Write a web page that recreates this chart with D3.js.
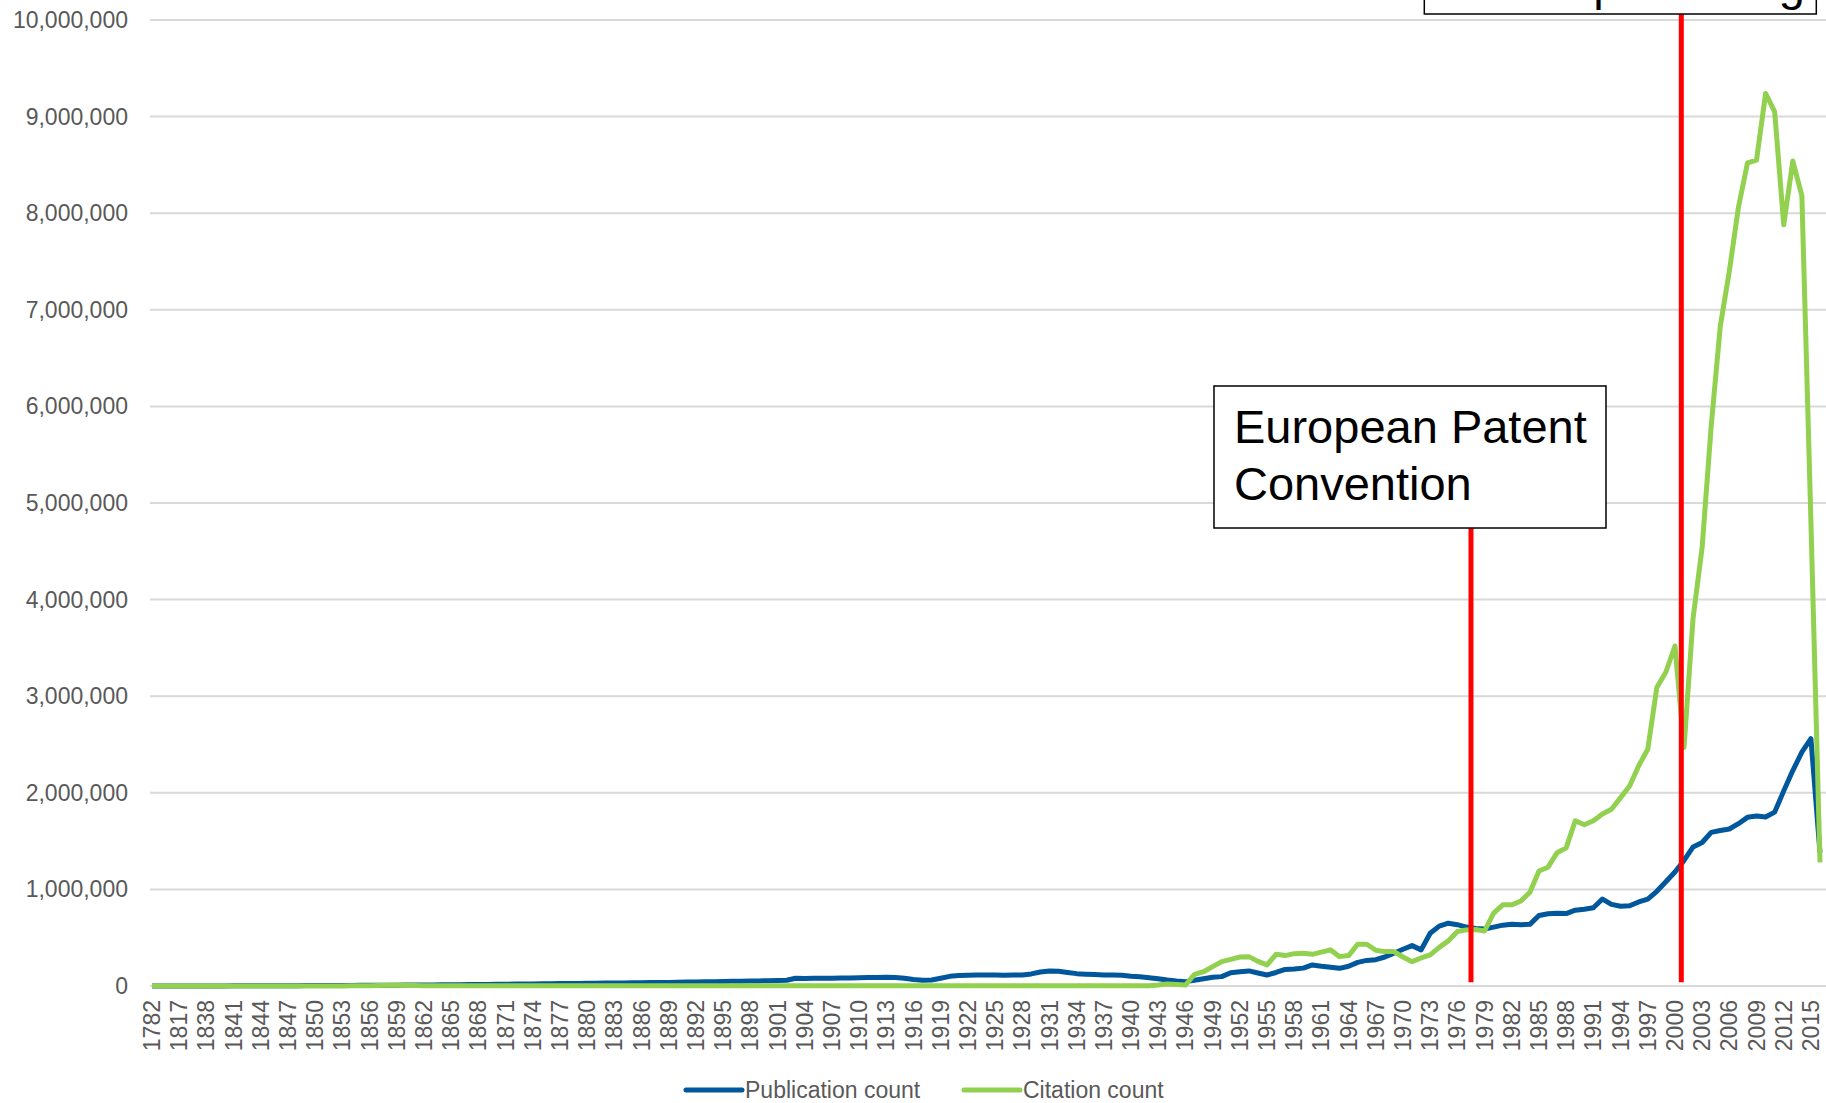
<!DOCTYPE html>
<html>
<head>
<meta charset="utf-8">
<script src="https://cdn.jsdelivr.net/npm/d3@7"></script>
<style>
  body { margin: 0; background: #fff; }
  svg { display: block; font-family: "Liberation Sans", Arial, sans-serif; }
</style>
</head>
<body>
<div id="chart"></div>
<script>
// categories: a few early years, then every year 1838-2016
const earlyYears = ['1782', '1791', '1805', '1817', '1823', '1832'];
const years = earlyYears.concat(d3.range(1838, 2017).map(String));

// values in thousands
const publicationsK = [
  0.1, 0.1, 0.2, 0.3, 0.4, 0.6,
  1, 1, 1.2, 1.5, 1.6, 2, 2.2, 2.5, 3, 3.1, 3.5, 4,
  4.2, 5, 5.3, 6, 6.4, 7, 7.5, 8, 8.6, 9,
  9.5, 10, 10.5, 11, 12, 13, 13.5, 15, 16, 16.5,
  18, 19, 19.5, 21, 22, 23, 23.5, 25, 26, 27,
  28, 29, 30, 31, 32, 33, 34, 35, 36, 37,
  39, 41, 42, 44, 45, 47, 48, 50, 51, 53,
  54, 56, 60, 80, 78, 79, 81, 80, 82, 84,
  85, 87, 88, 90, 88, 80, 68, 60, 62, 80,
  100, 108, 112, 115, 114, 113, 112, 113, 115, 125,
  145, 155, 152, 140, 128, 122, 118, 115, 113, 112,
  100, 95, 86, 75, 62, 52, 45, 60, 75, 90,
  97, 138, 148, 156, 135, 114, 140, 172, 176, 185,
  218, 205, 195, 183, 205, 245, 265, 272, 300, 339,
  380, 418, 374, 546, 620, 650, 635, 610, 595, 590,
  610, 630, 640, 635, 638, 730, 748, 752, 750, 785,
  795, 810, 900, 845, 825, 830, 870, 900, 980, 1080,
  1180, 1300, 1440, 1486, 1590, 1610, 1625, 1680, 1746, 1760,
  1750, 1800, 2020, 2230, 2420, 2560, 1380
];

const citationsK = [
  0, 0, 0, 0, 0, 0,
  0, 0, 0, 0, 0, 0, 0, 0, 0, 0, 0, 0,
  0, 0, 1, 1, 2, 2, 3, 5, 8, 10,
  8, 5, 3, 3, 3, 3, 3, 2, 2, 2,
  2, 2, 2, 2, 2, 2, 2, 2, 2, 2,
  2, 2, 2, 2, 2, 2, 2, 2, 2, 2,
  2, 2, 2, 2, 2, 2, 2, 3, 3, 3,
  3, 3, 3, 3, 3, 3, 3, 3, 3, 3,
  3, 3, 3, 3, 3, 3, 3, 3, 3, 3,
  3, 3, 3, 3, 3, 3, 3, 3, 3, 3,
  3, 3, 3, 3, 3, 3, 3, 3, 3, 3,
  3, 3, 3, 10, 20, 15, 10, 120, 148, 200,
  252, 275, 300, 304, 255, 218, 328, 315, 335, 339,
  328, 350, 374, 304, 315, 432, 432, 370, 356, 356,
  300, 252, 290, 322, 400, 467, 564, 581, 585, 570,
  754, 840, 840, 880, 970, 1190, 1230, 1380, 1430, 1710,
  1670, 1710, 1780, 1830, 1950, 2070, 2280, 2450, 3090, 3250,
  3520, 2470, 3810, 4540, 5800, 6830, 7400, 8060, 8520, 8550,
  9240, 9050, 7880, 8540, 8180, 4800, 1280
];

const yTicks = d3.range(0, 10000001, 1000000);
const seriesNames = ['Publication count', 'Citation count'];
const eventYears = [1977.5, 2000.7];
const eventLabels = [['European Patent', 'Convention'], ['Online publishing']];

const w = 1826;
const h = 1103;
const blue = '#00579b';
const green = '#92d050';
const grey = '#595959';

// year -> position on the category axis (years from 1838 on are consecutive)
const yearIndex = yr => 6 + (yr - 1838);

const x = d3.scaleLinear().domain([0, years.length - 1]).range([152, 1820]);
const y = d3.scaleLinear().domain([0, 10000000]).range([986, 20]);

const svg = d3.select('#chart')
  .append('svg')
  .attr('width', w)
  .attr('height', h);

svg.append('rect').attr('width', w).attr('height', h).attr('fill', '#fff');

// grid
svg.append('g')
  .selectAll('line')
  .data(yTicks)
  .enter()
  .append('line')
  .attr('x1', 150)
  .attr('x2', w)
  .attr('y1', d => y(d))
  .attr('y2', d => y(d))
  .attr('stroke', '#d9d9d9')
  .attr('stroke-width', 2);

// y labels
svg.append('g')
  .selectAll('text')
  .data(yTicks)
  .enter()
  .append('text')
  .attr('x', 128)
  .attr('y', d => y(d))
  .attr('dy', '0.35em')
  .attr('text-anchor', 'end')
  .attr('fill', grey)
  .style('font-size', '23px')
  .text(d => d3.format(',')(d));

// x labels, every third category
svg.append('g')
  .selectAll('text')
  .data(years.map((yr, i) => ({ yr, i })).filter(d => d.i % 3 === 0))
  .enter()
  .append('text')
  .attr('transform', d => `translate(${x(d.i)}, 1000) rotate(-90)`)
  .attr('text-anchor', 'end')
  .attr('dy', '0.35em')
  .attr('fill', grey)
  .style('font-size', '23px')
  .text(d => d.yr);

// lines
const line = d3.line()
  .x((d, i) => x(i))
  .y(d => y(d * 1000));

svg.append('path')
  .datum(publicationsK)
  .attr('d', line)
  .attr('fill', 'none')
  .attr('stroke', blue)
  .attr('stroke-width', 5)
  .attr('stroke-linejoin', 'round');

svg.append('path')
  .datum(citationsK)
  .attr('d', line)
  .attr('fill', 'none')
  .attr('stroke', green)
  .attr('stroke-width', 5)
  .attr('stroke-linejoin', 'round');

// event markers with boxes
const boxTops = [386, -60];
const boxBottoms = [528, 14];
const baselines = [443, 0];

eventYears.forEach((yr, k) => {
  const ex = x(yearIndex(yr));
  svg.append('line')
    .attr('x1', ex).attr('x2', ex)
    .attr('y1', boxBottoms[k])
    .attr('y2', y(40000))
    .attr('stroke', '#ff0000')
    .attr('stroke-width', 5);

  const left = ex - 257;
  svg.append('rect')
    .attr('x', left)
    .attr('y', boxTops[k])
    .attr('width', 392)
    .attr('height', boxBottoms[k] - boxTops[k])
    .attr('fill', '#fff')
    .attr('stroke', '#000')
    .attr('stroke-width', 1.5);

  const t = svg.append('text')
    .attr('fill', '#000')
    .style('font-size', '47px');
  eventLabels[k].forEach((s, j) => {
    t.append('tspan')
      .attr('x', left + 20)
      .attr('y', baselines[k] + j * 57)
      .text(s);
  });
});

// legend
const legend = svg.append('g').attr('transform', 'translate(0, 1090)');
const legendX = [686, 964];
[blue, green].forEach((c, i) => {
  legend.append('line')
    .attr('x1', legendX[i]).attr('x2', legendX[i] + 56)
    .attr('y1', 0).attr('y2', 0)
    .attr('stroke', c)
    .attr('stroke-width', 5)
    .attr('stroke-linecap', 'round');
  legend.append('text')
    .attr('x', legendX[i] + 59)
    .attr('y', 0)
    .attr('dy', '0.35em')
    .attr('fill', grey)
    .style('font-size', '23px')
    .text(seriesNames[i]);
});
</script>
</body>
</html>
